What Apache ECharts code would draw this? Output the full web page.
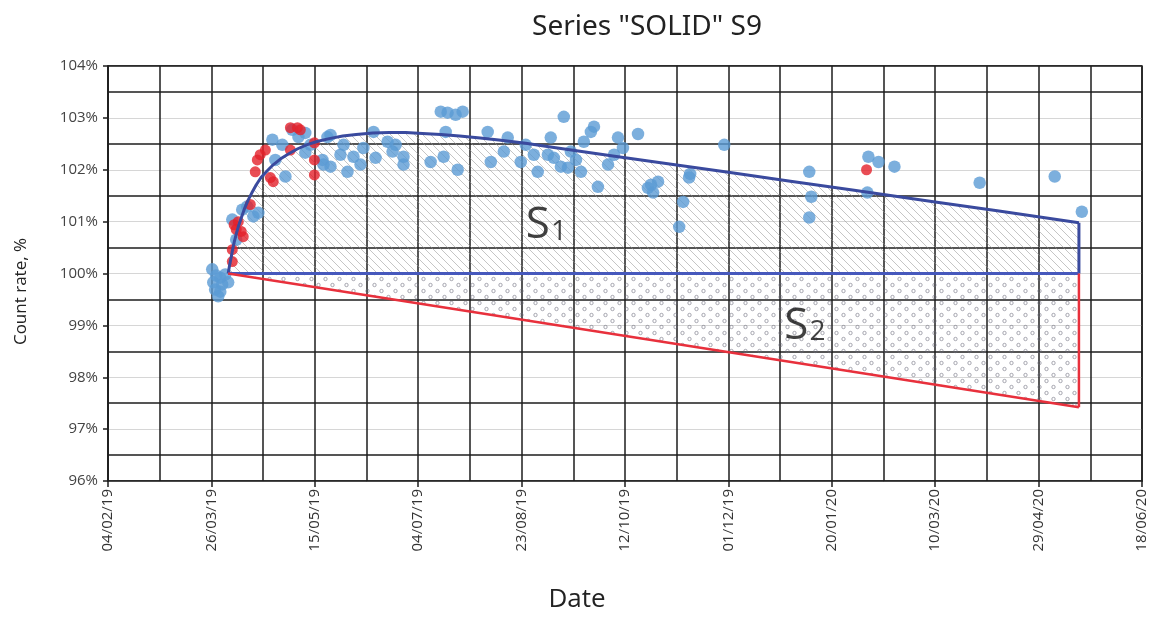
<!DOCTYPE html>
<html>
<head>
<meta charset="utf-8">
<script src="https://cdn.jsdelivr.net/npm/echarts@6/dist/echarts.min.js"></script>
<style>html,body{margin:0;padding:0;background:#fff}#c{width:1156px;height:618px}</style>
</head>
<body>
<div id="c"></div>
<script>
// x values are days since 04/02/2019
const xTickLabels = ['04/02/19','26/03/19','15/05/19','04/07/19','23/08/19','12/10/19','01/12/19','20/01/20','10/03/20','29/04/20','18/06/20'];
const bluePoints = [
  [50.4,100.08],[50.9,99.83],[51.8,99.69],[53.3,99.56],[54.3,99.92],[55.2,99.79],[56.7,99.98],[52.3,99.96],[58.1,99.83],[54.3,99.65],
  [60.1,101.04],[64.9,101.23],[67.3,101.29],[70.3,101.10],[72.7,101.17],[62.0,100.65],[79.5,102.58],[80.9,102.19],[89.1,102.77],[92.1,102.63],
  [95.4,102.71],[95.4,102.33],[85.8,101.87],[103.7,102.19],[106.1,102.63],[107.6,102.06],[84.3,102.48],[97.9,102.48],
  [107.6,102.67],[113.9,102.48],[115.8,101.96],[118.7,102.25],[123.5,102.42],[128.4,102.73],[129.4,102.23],[135.2,102.54],[137.6,102.35],
  [142.9,102.25],[142.9,102.10],[104.2,102.10],[156.0,102.15],[162.3,102.25],[163.3,102.73],[164.2,103.10],[160.9,103.12],[168.1,103.06],
  [171.5,103.12],[169.1,102.00],[112.4,102.29],[122.1,102.10],[139.1,102.48],
  [183.6,102.73],[185.1,102.15],[191.4,102.35],[193.3,102.62],[199.6,102.15],[205.9,102.29],[207.8,101.96],[214.1,102.62],[215.6,102.23],
  [219.0,102.06],[220.4,103.02],[222.4,102.04],[228.7,101.96],[230.1,102.54],[233.5,102.73],[235.0,102.83],[236.9,101.67],[241.8,102.10],
  [244.7,102.29],[246.6,102.62],[223.8,102.35],[212.7,102.29],[202.0,102.48],[226.3,102.19],
  [256.3,102.69],[249.0,102.42],[262.6,101.71],[266.0,101.77],[261.1,101.65],[263.6,101.56],[281.0,101.85],[278.1,101.38],[276.2,100.90],
  [298.0,102.48],[281.5,101.92],
  [339.1,101.96],[340.1,101.48],[339.1,101.08],[367.7,102.25],[372.6,102.15],[380.3,102.06],[367.2,101.56],[421.5,101.75],[457.8,101.87],[470.9,101.19]
];
const redPoints = [
  [60.1,100.46],[60.1,100.23],[61.0,100.94],[63.0,101.00],[64.4,100.81],[65.4,100.71],[71.2,101.96],[72.2,102.19],[73.6,102.29],[76.1,102.38],
  [78.5,101.85],[79.9,101.77],[88.2,102.38],[88.2,102.81],[91.6,102.81],[93.0,102.77],[99.8,102.52],[99.8,102.19],[99.8,101.90],[68.8,101.33],
  [62.0,100.85],[366.8,102.00]
];
const upperCurve = [
  [58.1,100.00],[58.8,100.16],[59.5,100.30],[60.2,100.45],[61.0,100.60],[62.0,100.76],[63.0,100.90],[64.5,101.08],[66.0,101.25],[67.7,101.41],
  [69.5,101.55],[71.7,101.71],[74.0,101.85],[77.0,101.98],[80.0,102.10],[83.5,102.21],[87.0,102.30],[91.5,102.40],[96.0,102.48],[101.5,102.55],
  [107.0,102.60],[113.5,102.65],[120.0,102.68],[128.0,102.71],[136.0,102.72],[144.0,102.72],[152.0,102.70],[161.0,102.68],[170.0,102.65],
  [180.0,102.61],[190.0,102.57],[202.0,102.51],[214.0,102.44],[245.0,102.26],[275.0,102.09],[300.0,101.95],[330.0,101.78],[360.0,101.61],
  [400.0,101.38],[430.0,101.21],[469.5,100.98]
];
const upperEdge = [[469.5,100.98],[469.5,100.00]];
const baseLine = [[58.1,100.00],[469.5,100.00]];
const lowerLine = [[58.1,100.00],[469.5,97.42]];
const lowerEdge = [[469.5,97.42],[469.5,100.00]];
const areaLabels = [[212,100.92,'1'],[337,98.98,'2']];

function hatchPattern(){
  const c=document.createElement('canvas'); c.width=8; c.height=8;
  const g=c.getContext('2d'); g.strokeStyle='rgba(150,150,150,0.55)'; g.lineWidth=1;
  g.beginPath(); g.moveTo(0,0); g.lineTo(8,8); g.moveTo(-2,6); g.lineTo(2,10); g.moveTo(6,-2); g.lineTo(10,2); g.stroke();
  return c;
}
function dotPattern(){
  const c=document.createElement('canvas'); c.width=14; c.height=12;
  const g=c.getContext('2d'); g.strokeStyle='rgba(110,110,125,0.65)'; g.lineWidth=0.9;
  g.beginPath(); g.arc(3.5,3,1.7,0,Math.PI*2); g.stroke();
  g.beginPath(); g.arc(10.5,9,1.7,0,Math.PI*2); g.stroke();
  return c;
}

const chart = echarts.init(document.getElementById('c'));
const gridBlack = {color:'#1e1e1e', width:1.5};
chart.setOption({
  animation:false,
  title:{text:'Series "SOLID" S9', left:642, top:8, textAlign:'center',
    textStyle:{fontFamily:'Noto Sans', fontSize:28, fontWeight:'normal', color:'#222'}},
  grid:{left:108, right:14, top:66, bottom:136, show:true, borderColor:'#1e1e1e', borderWidth:1.5},
  xAxis:{type:'value', min:0, max:500, interval:50,
    name:'Date', nameLocation:'middle', nameGap:106,
    nameTextStyle:{fontFamily:'Open Sans', fontSize:26, color:'#222', padding:[0,96,0,0]},
    axisLine:{lineStyle:{color:'#1e1e1e', width:1.5}},
    axisTick:{show:true, length:6, lineStyle:{color:'#1e1e1e', width:1.5}},
    axisLabel:{rotate:90, margin:8, fontFamily:'Open Sans', fontSize:15, color:'#333',
      formatter:v=>xTickLabels[Math.round(v/50)]},
    splitLine:{show:true, lineStyle:gridBlack},
    minorTick:{show:false, splitNumber:2},
    minorSplitLine:{show:true, lineStyle:gridBlack}},
  yAxis:{type:'value', min:96, max:104, interval:1,
    name:'Count rate, %', nameLocation:'middle', nameGap:78,
    nameTextStyle:{fontFamily:'Open Sans', fontSize:17, color:'#222', padding:[0,36,0,0]},
    axisLine:{show:true, lineStyle:{color:'#1e1e1e', width:1.5}},
    axisTick:{show:true, length:5, lineStyle:{color:'#1e1e1e', width:1.5}},
    axisLabel:{margin:10, fontFamily:'Open Sans', fontSize:15, color:'#444', formatter:v=>v+'%'},
    splitLine:{show:true, lineStyle:{color:'#d6d6d6', width:1}},
    minorTick:{show:false, splitNumber:2},
    minorSplitLine:{show:true, lineStyle:gridBlack}},
  series:[
    {type:'line', data:upperCurve, smooth:false, showSymbol:false, silent:true, z:1,
      lineStyle:{width:0}, areaStyle:{origin:100, opacity:1, color:{image:hatchPattern(), repeat:'repeat'}},
      markLine:{silent:true, symbol:'none', label:{show:false}, lineStyle:{color:'#1e1e1e', width:1.5, type:'solid'}, data:[{yAxis:104}]}},
    {type:'line', data:lowerLine, showSymbol:false, silent:true, z:1,
      lineStyle:{width:0}, areaStyle:{origin:100, opacity:1, color:{image:dotPattern(), repeat:'repeat'}}},
    {type:'scatter', data:bluePoints, symbolSize:12.5, itemStyle:{color:'#5b9bd5'}, z:3},
    {type:'scatter', data:redPoints, symbolSize:11, itemStyle:{color:'#e3202b'}, z:4},
    {type:'line', data:upperCurve, smooth:false, showSymbol:false, z:5, lineStyle:{color:'#3a4a9e', width:3, join:'round'}},
    {type:'line', data:upperEdge, showSymbol:false, z:5, lineStyle:{color:'#3a4a9e', width:3}},
    {type:'line', data:baseLine, showSymbol:false, z:5, lineStyle:{color:'#4658bc', width:3}},
    {type:'line', data:lowerLine, showSymbol:false, z:5, lineStyle:{color:'#e8303c', width:2.5}},
    {type:'line', data:lowerEdge, showSymbol:false, z:5, lineStyle:{color:'#e8303c', width:2.5}},
    {type:'scatter', data:areaLabels.map(a=>[a[0],a[1],a[2]]), symbolSize:0, z:6, silent:true,
      label:{show:true, position:'inside', formatter:p=>'{s|S}{n|'+p.value[2]+'}',
        rich:{s:{fontFamily:'Open Sans', fontSize:44, color:'#111', lineHeight:44, verticalAlign:'bottom'},
              n:{fontFamily:'Open Sans', fontSize:28, color:'#111', lineHeight:32, verticalAlign:'bottom', padding:[0,0,2,1]}}}}
  ]
});
</script>
</body>
</html>
